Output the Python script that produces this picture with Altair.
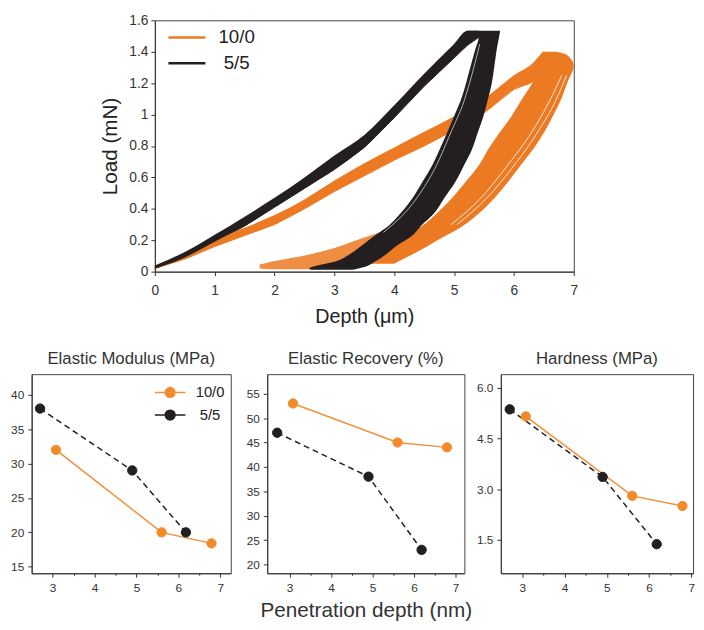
import altair as alt
import pandas as pd

FONT = "Liberation Sans"
OR = "#EC7A22"
BK = "#231F20"
OR_PT = "#F18A27"
OR_LN = "#F0913A"
TXT = "#333333"
SERIES = ["10/0", "5/5"]

# ---------------- top panel: load-depth curve bundles ----------------
top_x_ticks = [0, 1, 2, 3, 4, 5, 6, 7]
top_y_ticks = [0, 0.2, 0.4, 0.6, 0.8, 1.0, 1.2, 1.4, 1.6]

# 5/5 loading bundle (depth, lower load, upper load)
bk_load_x = [0.0, 0.5, 1.0, 1.5, 2.0, 2.5, 3.0, 3.5, 4.0, 4.5, 5.0, 5.22, 5.41]
bk_load_lo = [0.02, 0.09, 0.19, 0.29, 0.41, 0.53, 0.65, 0.79, 0.98, 1.18, 1.36, 1.44, 1.49]
bk_load_hi = [0.04, 0.125, 0.235, 0.35, 0.47, 0.60, 0.74, 0.87, 1.06, 1.26, 1.45, 1.533, 1.533]
# 5/5 unloading bundle (load, left depth, right depth)
bk_unl_y = [0.012, 0.02, 0.07, 0.11, 0.17, 0.22, 0.30, 0.36, 0.47, 0.57, 0.68, 0.78, 0.89, 0.99, 1.09, 1.20, 1.30, 1.41, 1.49, 1.533]
bk_unl_l = [2.62, 2.58, 3.05, 3.25, 3.47, 3.64, 3.93, 4.08, 4.31, 4.47, 4.64, 4.76, 4.89, 5.00, 5.11, 5.20, 5.27, 5.35, 5.41, 5.22]
bk_unl_r = [3.30, 3.40, 3.70, 3.86, 4.06, 4.27, 4.47, 4.64, 4.84, 5.02, 5.17, 5.30, 5.40, 5.49, 5.56, 5.63, 5.67, 5.71, 5.75, 5.77]
bk_white_y = [0.25, 0.47, 0.68, 0.89, 1.09, 1.30, 1.45]
bk_white_x = [3.82, 4.38, 4.71, 4.95, 5.17, 5.33, 5.43]

# 10/0 loading bundle
or_load_x = [0.0, 0.5, 1.0, 1.5, 2.0, 2.5, 3.0, 3.5, 4.0, 4.5, 5.0, 5.5, 6.0, 6.32, 6.48]
or_load_lo = [0.02, 0.08, 0.16, 0.23, 0.30, 0.40, 0.51, 0.61, 0.71, 0.80, 0.90, 1.01, 1.16, 1.21, 1.30]
or_load_hi = [0.04, 0.11, 0.21, 0.28, 0.36, 0.46, 0.58, 0.69, 0.79, 0.89, 0.99, 1.10, 1.25, 1.33, 1.40]
# 10/0 unloading bundle
or_unl_y = [0.05, 0.08, 0.11, 0.15, 0.20, 0.28, 0.40, 0.47, 0.57, 0.68, 0.78, 0.89, 0.99, 1.09, 1.21, 1.31, 1.355, 1.39, 1.40]
or_unl_l = [3.40, 3.60, 3.75, 3.85, 4.05, 4.42, 4.79, 4.97, 5.19, 5.42, 5.57, 5.77, 5.96, 6.12, 6.32, 6.42, 6.45, 6.47, 6.48]
or_unl_r = [4.00, 4.15, 4.30, 4.50, 4.72, 5.10, 5.50, 5.68, 5.90, 6.12, 6.32, 6.51, 6.65, 6.78, 6.90, 7.00, 6.95, 6.82, 6.70]
# 10/0 noisy tails near zero load
or_tail_x = [1.75, 1.9, 2.1, 2.4, 2.7, 3.0, 3.3, 3.6, 3.85]
or_tail_lo = [0.02, 0.015, 0.015, 0.015, 0.015, 0.02, 0.03, 0.06, 0.10]
or_tail_hi = [0.045, 0.06, 0.075, 0.095, 0.12, 0.15, 0.19, 0.23, 0.26]
or_white_y = [0.30, 0.47, 0.68, 0.89, 1.09, 1.25]
or_white1_x = [5.05, 5.55, 6.01, 6.40, 6.70, 6.88]
or_white2_x = [4.95, 5.45, 5.90, 6.30, 6.60, 6.80]

# ---------------- bottom panels ----------------
depth_10_0 = [3.08, 5.6, 6.79]
depth_5_5 = [2.7, 4.9, 6.18]
modulus_10_0 = [32.0, 20.0, 18.4]
modulus_5_5 = [38.0, 29.0, 20.0]
recovery_10_0 = [53.0, 45.0, 44.0]
recovery_5_5 = [47.0, 38.0, 23.0]
hardness_10_0 = [5.15, 2.8, 2.5]
hardness_5_5 = [5.36, 3.36, 1.37]
bottom_x_ticks = [3, 3.5, 4, 4.5, 5, 5.5, 6, 6.5, 7]
modulus_ticks = [15, 20, 25, 30, 35, 40]
recovery_ticks = [20, 25, 30, 35, 40, 45, 50, 55]
hardness_ticks = [1.5, 3.0, 4.5, 6.0]

# ---------------- top chart ----------------
xs_top = alt.Scale(domain=[0, 7], nice=False, zero=False)
ys_top = alt.Scale(domain=[0, 1.6], nice=False, zero=False)
ax_x_top = alt.Axis(title="Depth (μm)", values=top_x_ticks, format="d", labelFontSize=14,
                    titleFontSize=20, titlePadding=10, tickSize=4, labelPadding=8)
ax_y_top = alt.Axis(title="Load (mN)", values=top_y_ticks, labelExpr="format(datum.value, '~g')",
                    labelFontSize=14, titleFontSize=21, titlePadding=8, tickSize=4, labelPadding=3)


def X(f):
    return alt.X(f, type="quantitative", scale=xs_top, axis=ax_x_top)


def Y(f):
    return alt.Y(f, type="quantitative", scale=ys_top, axis=ax_y_top)


df_bk_load = pd.DataFrame({"x": bk_load_x, "lo": bk_load_lo, "hi": bk_load_hi})
df_or_load = pd.DataFrame({"x": or_load_x, "lo": or_load_lo, "hi": or_load_hi})
df_bk_unl = pd.DataFrame({"y": bk_unl_y, "L": bk_unl_l, "R": bk_unl_r})
df_or_unl = pd.DataFrame({"y": or_unl_y, "L": or_unl_l, "R": or_unl_r})
df_or_tail = pd.DataFrame({"x": or_tail_x, "lo": or_tail_lo, "hi": or_tail_hi})
df_bk_white = pd.DataFrame({"x": bk_white_x, "y": bk_white_y})
df_or_white = pd.concat([
    pd.DataFrame({"x": or_white1_x, "y": or_white_y, "k": "a"}),
    pd.DataFrame({"x": or_white2_x, "y": or_white_y, "k": "b"}),
])
df_legend_top = pd.concat([
    pd.DataFrame({"x": or_load_x, "y": or_load_lo, "series": "10/0"}),
    pd.DataFrame({"x": bk_load_x, "y": bk_load_lo, "series": "5/5"}),
])

legend_top = alt.Legend(title=None, orient="none", legendX=23, legendY=8, direction="vertical",
                        symbolType="M-2.5,0L2.5,0", symbolSize=225, symbolStrokeWidth=2.5,
                        labelFontSize=19, labelFont=FONT, labelColor="#222", labelAlign="center",
                        labelOffset=41, rowPadding=6, padding=0)

l_legend = alt.Chart(df_legend_top).mark_line(strokeWidth=1).encode(
    x=X("x"), y=Y("y"),
    color=alt.Color("series:N", scale=alt.Scale(domain=SERIES, range=[OR, BK]), legend=legend_top),
)
l_or_tail = alt.Chart(df_or_tail).mark_area(color=OR, opacity=0.85, interpolate="monotone").encode(
    x=X("x"), y=Y("lo"), y2="hi")
l_or_unl = alt.Chart(df_or_unl).mark_area(color=OR, orient="horizontal", interpolate="monotone").encode(
    y=Y("y"), x=X("L"), x2="R")
l_or_load = alt.Chart(df_or_load).mark_area(color=OR, interpolate="monotone").encode(
    x=X("x"), y=Y("lo"), y2="hi")
l_or_white = alt.Chart(df_or_white).mark_line(color="white", strokeWidth=0.9, opacity=0.9,
                                              interpolate="monotone").encode(
    x=X("x"), y=Y("y"), detail="k:N", order="y:Q")
l_bk_load = alt.Chart(df_bk_load).mark_area(color=BK, interpolate="monotone").encode(
    x=X("x"), y=Y("lo"), y2="hi")
l_bk_unl = alt.Chart(df_bk_unl).mark_area(color=BK, orient="horizontal", interpolate="monotone").encode(
    y=Y("y"), x=X("L"), x2="R")
l_bk_white = alt.Chart(df_bk_white).mark_line(color="white", strokeWidth=0.8, opacity=0.8,
                                              interpolate="monotone").encode(
    x=X("x"), y=Y("y"), order="y:Q")

top = alt.layer(l_legend, l_or_tail, l_or_unl, l_or_load, l_or_white,
                l_bk_load, l_bk_unl, l_bk_white).properties(width=425, height=255)

spacer = alt.Chart(pd.DataFrame({"v": [0]})).mark_point(opacity=0).encode(
    x=alt.value(0), y=alt.value(0)
).properties(width=125, height=1, view=alt.ViewBackground(stroke="transparent"))

# ---------------- bottom charts ----------------
legend_bottom = alt.Legend(title=None, orient="none", legendX=133, legendY=11, direction="vertical",
                           symbolType="M-3.1,0L3.1,0M1,0A1,1,0,1,1,-1,0A1,1,0,1,1,1,0Z",
                           symbolSize=100, symbolStrokeWidth=1.5, labelFontSize=15, labelFont=FONT,
                           labelColor="#222", labelAlign="center", labelOffset=33, rowPadding=6,
                           padding=0)


def panel(title, v10, v55, ydom, yticks, yfmt, xdom, width, show_legend=False, xtitle=None):
    xs = alt.Scale(domain=xdom, nice=False, zero=False)
    ys = alt.Scale(domain=ydom, nice=False, zero=False)
    xax = alt.Axis(values=bottom_x_ticks, labelExpr="datum.value % 1 === 0 ? format(datum.value, 'd') : ''",
                   tickSize={"condition": {"test": "datum.value % 1 !== 0", "value": 2}, "value": 4},
                   labelFontSize=12, labelPadding=6, title=xtitle, titleFontSize=21, titlePadding=6,
                   titleColor="#333")
    yax = alt.Axis(values=yticks, format=yfmt, labelFontSize=12, labelPadding=4, tickSize=4, title=None)
    d10 = pd.DataFrame({"d": depth_10_0, "v": v10, "series": "10/0"})
    d55 = pd.DataFrame({"d": depth_5_5, "v": v55, "series": "5/5"})
    dall = pd.concat([d10, d55])
    xe = alt.X("d:Q", scale=xs, axis=xax)
    ye = alt.Y("v:Q", scale=ys, axis=yax)
    lg = legend_bottom if show_legend else None
    line10 = alt.Chart(d10).mark_line(color=OR_LN, strokeWidth=1.5).encode(x=xe, y=ye)
    line55 = alt.Chart(d55).mark_line(color=BK, strokeWidth=1.5, strokeDash=[6, 4]).encode(x=xe, y=ye)
    pts = alt.Chart(dall).mark_point(filled=True, size=90, opacity=1, strokeWidth=1).encode(
        x=xe, y=ye,
        fill=alt.Fill("series:N", scale=alt.Scale(domain=SERIES, range=[OR_PT, BK]), legend=lg),
        stroke=alt.Stroke("series:N", scale=alt.Scale(domain=SERIES, range=[OR_LN, BK]), legend=lg),
    )
    return alt.layer(line55, line10, pts).properties(
        width=width, height=202,
        title=alt.TitleParams(title, fontSize=17, fontWeight="normal", color=TXT, font=FONT, offset=6),
    )


p1 = panel("Elastic Modulus (MPa)", modulus_10_0, modulus_5_5, [14.05, 43.0], modulus_ticks, "d",
           [2.5, 7.25], 202, show_legend=True)
p2 = panel("Elastic Recovery (%)", recovery_10_0, recovery_5_5, [18.2, 59.0], recovery_ticks, "d",
           [2.46, 7.21], 200, xtitle="Penetration depth (nm)")
p3 = panel("Hardness (MPa)", hardness_10_0, hardness_5_5, [0.51, 6.4], hardness_ticks, ".1f",
           [2.49, 7.04], 195)

IND = "independent"
row1 = alt.hconcat(spacer, top, spacing=0, bounds="flush").resolve_scale(
    color=IND).resolve_legend(color=IND)
row2 = alt.hconcat(p1, p2, p3, spacing=37, bounds="flush").resolve_scale(
    fill=IND, stroke=IND).resolve_legend(fill=IND, stroke=IND)

chart = alt.vconcat(row1, row2, spacing=22).resolve_scale(
    color=IND, fill=IND, stroke=IND
).resolve_legend(
    color=IND, fill=IND, stroke=IND
).properties(
    padding={"left": 2, "top": 0, "right": 0, "bottom": 0}
).configure(font=FONT).configure_view(
    stroke="#444", strokeWidth=1
).configure_axis(
    domainColor="#333", tickColor="#333", labelColor=TXT, titleColor="#222",
    labelFont=FONT, titleFont=FONT, titleFontWeight="normal", grid=False, labelFlush=False,
)

chart.save("out.html", embed_options={"renderer": "svg", "actions": False})
